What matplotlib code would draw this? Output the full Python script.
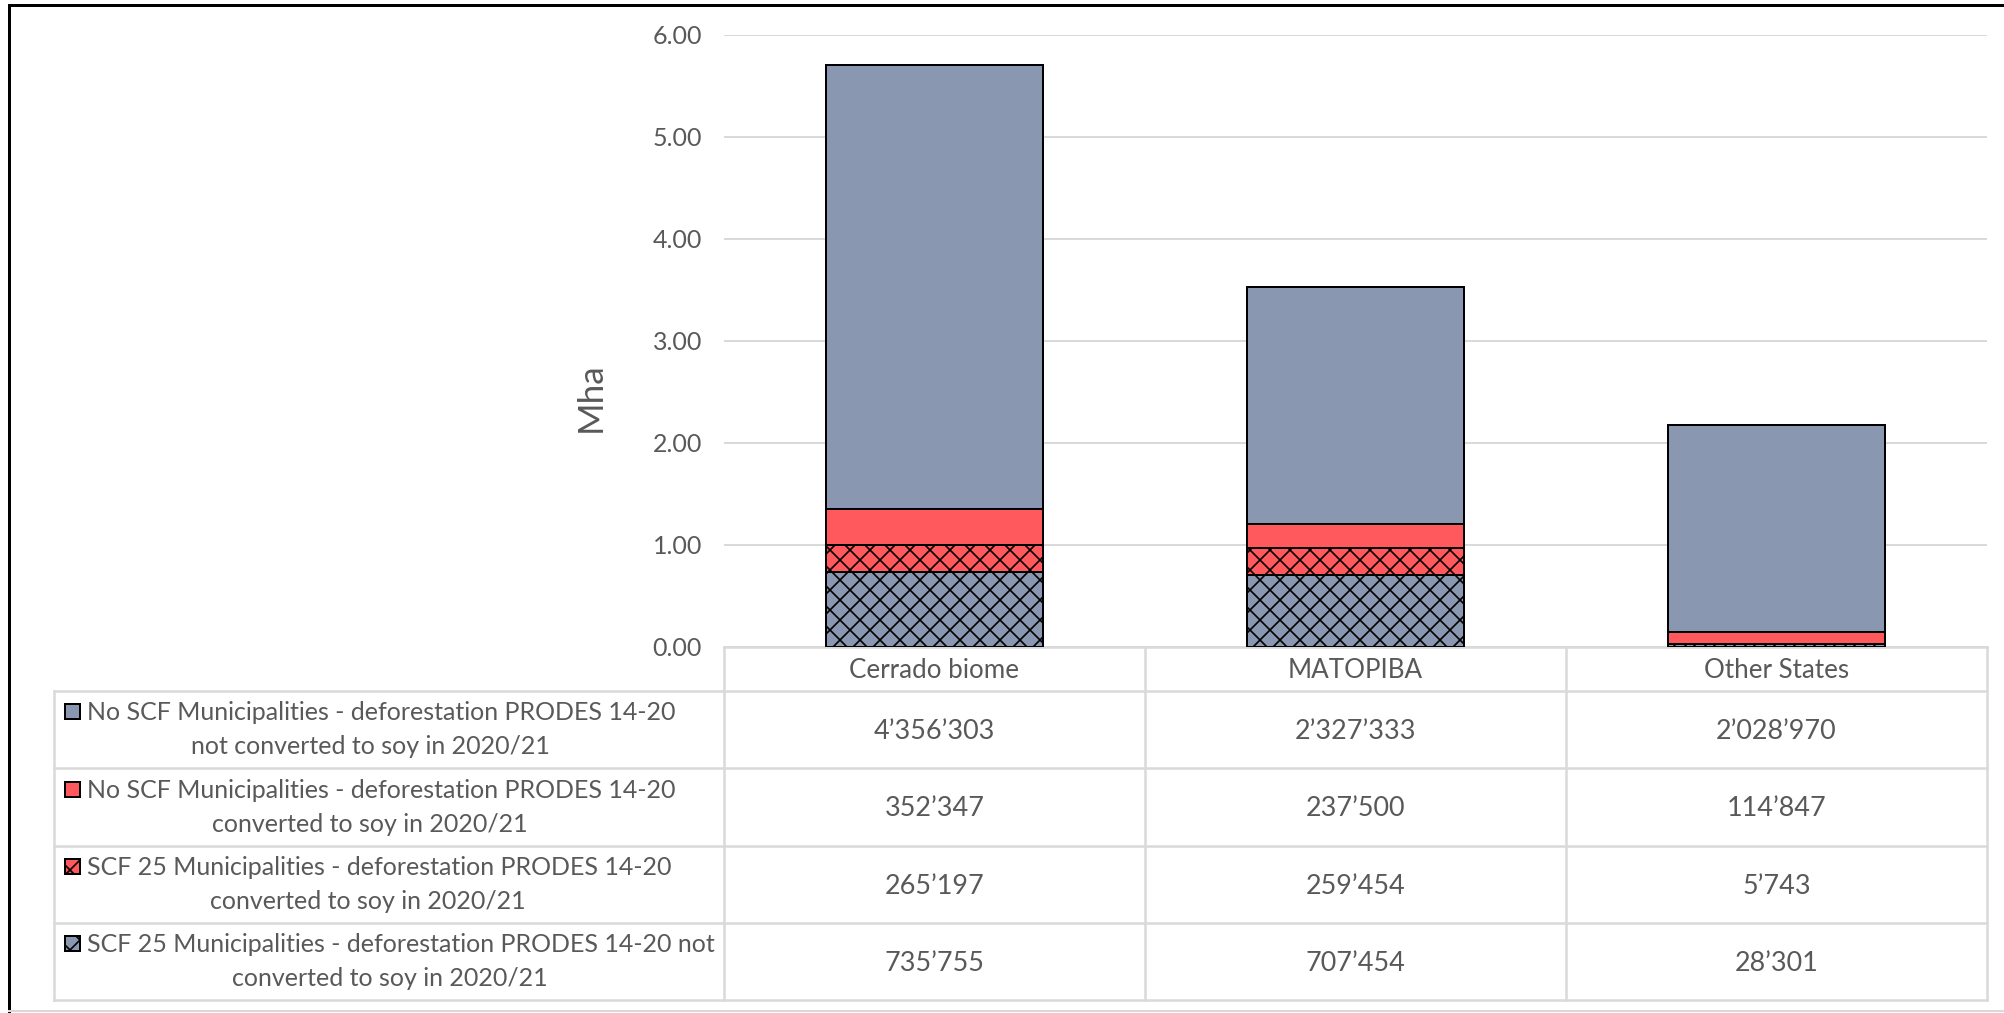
import numpy as np
import matplotlib.pyplot as plt
from matplotlib.patches import Rectangle

plt.rcParams['font.family'] = ['Lato', 'DejaVu Sans']
plt.rcParams['hatch.linewidth'] = 1.0
plt.rcParams['hatch.color'] = 'black'

# data (hectares)
categories = ['Cerrado biome', 'MATOPIBA', 'Other States']
scf_not_conv = [735755, 707454, 28301]
scf_conv = [265197, 259454, 5743]
noscf_conv = [352347, 237500, 114847]
noscf_not_conv = [4356303, 2327333, 2028970]

series_labels = [
    'No SCF Municipalities - deforestation PRODES 14-20\nnot converted to soy in 2020/21',
    'No SCF Municipalities - deforestation PRODES 14-20\nconverted to soy in 2020/21',
    'SCF 25 Municipalities - deforestation PRODES 14-20\nconverted to soy in 2020/21',
    'SCF 25 Municipalities - deforestation PRODES 14-20 not\nconverted to soy in 2020/21',
]
yticks = [0, 1, 2, 3, 4, 5, 6]

gray = '#8997B0'
red = '#FF585D'
txt = '#595959'
grid = '#D9D9D9'

W, H, DPI = 2005, 1013, 120
def pt(px):
    # pixels -> points at this dpi
    return px * 72.0 / DPI

fig = plt.figure(figsize=(W / DPI, H / DPI), dpi=DPI)

# bar chart axes
left, right, top, bottom = 724, 1987, 35, 647
ax = fig.add_axes([left / W, 1 - bottom / H, (right - left) / W, (bottom - top) / H])

x = np.arange(len(categories))
stack = [
    (np.array(scf_not_conv) / 1e6, gray, 'xx'),
    (np.array(scf_conv) / 1e6, red, 'xx'),
    (np.array(noscf_conv) / 1e6, red, None),
    (np.array(noscf_not_conv) / 1e6, gray, None),
]
base = np.zeros(len(categories))
for vals, col, hatch in stack:
    ax.bar(x, vals, 0.514, bottom=base, color=col, edgecolor='black',
           linewidth=pt(2), hatch=hatch, zorder=3)
    base = base + vals

ax.set_xlim(-0.5, 2.5)
ax.set_ylim(0, 6)
ax.set_yticks(yticks)
ax.set_yticklabels(['%.2f' % v for v in yticks])
ax.tick_params(axis='y', length=0, pad=pt(22), labelsize=pt(25), labelcolor=txt)
ax.set_xticks([])
ax.grid(axis='y', color=grid, linewidth=pt(2), zorder=0)
for s in ax.spines.values():
    s.set_visible(False)
ax.set_ylabel('Mha', fontsize=pt(35), color=txt)
ax.yaxis.set_label_coords((591 - left) / (right - left), 1 - (397 - top) / (bottom - top))
ax.yaxis.label.set_va('center')

# overlay in pixel coordinates for the data table
ov = fig.add_axes([0, 0, 1, 1], zorder=-1)
ov.set_xlim(0, W)
ov.set_ylim(H, 0)
ov.axis('off')

col_x = [54, 724, 1145, 1566, 1987]
row_y = [647, 691, 768, 846, 923, 1000]
lw = pt(2.5)

ov.plot([col_x[1], col_x[-1]], [row_y[0], row_y[0]], color=grid, lw=lw)
for cx in col_x[1:]:
    ov.plot([cx, cx], [row_y[0], row_y[-1]], color=grid, lw=lw)
ov.plot([col_x[0], col_x[0]], [row_y[1], row_y[-1]], color=grid, lw=lw)
for ry in row_y[1:]:
    ov.plot([col_x[0], col_x[-1]], [ry, ry], color=grid, lw=lw)

for i, name in enumerate(categories):
    cx = (col_x[i + 1] + col_x[i + 2]) / 2
    ov.text(cx, (row_y[0] + row_y[1]) / 2 + 2, name, ha='center', va='center',
            fontsize=pt(26), color=txt)

renderer = fig.canvas.get_renderer()
sw = 15     # swatch size
sw_x = 65   # swatch left edge
txt_x = 87  # first line start

table_vals = [noscf_not_conv, noscf_conv, scf_conv, scf_not_conv]
swatches = [(gray, None), (red, None), (red, 'xx'), (gray, 'xx')]
for r, (lab, vals, (col, hatch)) in enumerate(zip(series_labels, table_vals, swatches)):
    cy = (row_y[r + 1] + row_y[r + 2]) / 2
    first, second = lab.split('\n')
    t1 = ov.text(txt_x, cy - 17, first, ha='left', va='center',
                 fontsize=pt(25), color=txt)
    bb = t1.get_window_extent(renderer)
    x_right = bb.x1  # overlay axes maps 1:1 to pixels horizontally
    ov.text((sw_x + x_right) / 2, cy + 17, second, ha='center', va='center',
            fontsize=pt(25), color=txt)
    ov.add_patch(Rectangle((sw_x, cy - 17 - sw / 2 - 1), sw, sw, facecolor=col,
                           edgecolor='black', linewidth=pt(2), hatch=hatch))
    for i, v in enumerate(vals):
        cx = (col_x[i + 1] + col_x[i + 2]) / 2
        ov.text(cx, cy + 2, f'{v:,}'.replace(',', '\u2019'), ha='center', va='center',
                fontsize=pt(27), color=txt)

# outer frame
ov.plot([9, 9], [5, H], color='black', lw=pt(3))
ov.plot([9, W], [5, 5], color='black', lw=pt(3))
ov.plot([9, W], [1011, 1011], color=grid, lw=pt(2))

fig.savefig('out.png', dpi=DPI)
